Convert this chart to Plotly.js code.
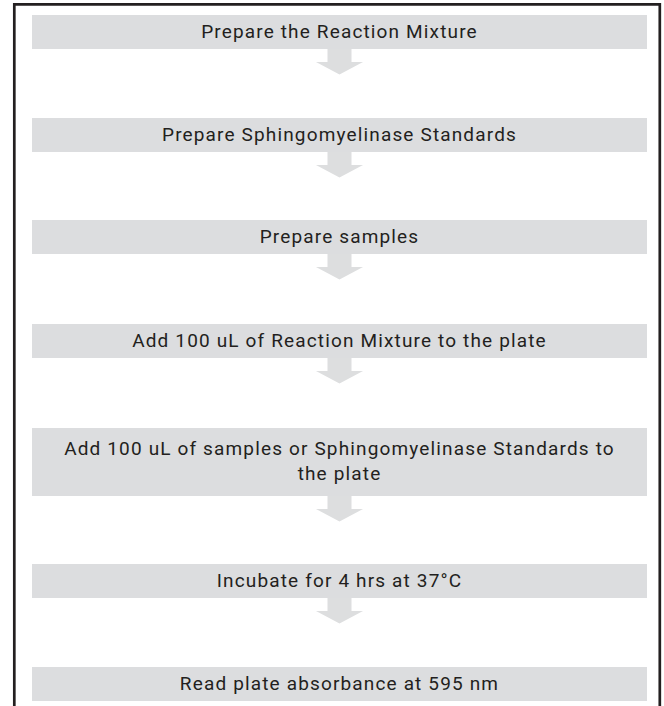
<!DOCTYPE html>
<html>
<head>
<meta charset="utf-8">
<script src="https://cdn.plot.ly/plotly-3.0.1.min.js"></script>
<style>
html,body{margin:0;padding:0;background:#fff;}
#chart{width:664px;height:706px;}
#chart .textpoint text{letter-spacing:1.15px;}
</style>
</head>
<body>
<div id="chart"></div>
<script>
// Flowchart steps (content)
const steps = [
  "Prepare the Reaction Mixture",
  "Prepare Sphingomyelinase Standards",
  "Prepare samples",
  "Add 100 uL of Reaction Mixture to the plate",
  "Add 100 uL of samples or Sphingomyelinase Standards to<br>the plate",
  "Incubate for 4 hrs at 37°C",
  "Read plate absorbance at 595 nm"
];

// Layout geometry (pixel-space axes)
const boxTop    = [15, 118, 220, 324, 428, 564, 667];
const boxBottom = [49, 152, 254, 358, 496, 598, 701];
const boxLeft = 32, boxRight = 647;
const cx = (boxLeft + boxRight) / 2;

const BOX = "#dcdddf", ARROW = "#dddedf", INK = "#231f20";

const shapes = [];
// outer frame (open at bottom)
shapes.push({type:"path", xref:"x", yref:"y",
  path:"M 14.3,710 L 14.3,4.3 L 659.8,4.3 L 659.8,710",
  line:{color:INK, width:2.7}, layer:"above"});
boxTop.forEach((t,i)=>{
  shapes.push({type:"rect", xref:"x", yref:"y", x0:boxLeft, x1:boxRight, y0:t, y1:boxBottom[i],
    fillcolor:BOX, line:{width:0}, layer:"below"});
  if (i < boxTop.length - 1) {
    const b = boxBottom[i];
    const p = `M ${cx-12},${b} L ${cx+12},${b} L ${cx+12},${b+13} L ${cx+23.5},${b+13} L ${cx},${b+25.5} L ${cx-23.5},${b+13} L ${cx-12},${b+13} Z`;
    shapes.push({type:"path", xref:"x", yref:"y", path:p, fillcolor:ARROW, line:{width:0}, layer:"below"});
  }
});

const labelY = boxTop.map((t,i)=> (t + boxBottom[i]) / 2 + 1);
const trace = {
  type:"scatter", mode:"text",
  x: steps.map(()=>cx), y: labelY, text: steps,
  textposition:"middle center",
  textfont:{family:"Roboto, 'Noto Sans', sans-serif", size:19, color:INK},
  hoverinfo:"skip", showlegend:false
};

const layout = {
  width:664, height:706,
  margin:{l:0,r:0,t:0,b:0},
  paper_bgcolor:"#ffffff", plot_bgcolor:"#ffffff",
  xaxis:{range:[0,664], visible:false, fixedrange:true},
  yaxis:{range:[706,0], visible:false, fixedrange:true},
  shapes: shapes,
  showlegend:false
};
Plotly.newPlot("chart", [trace], layout, {displayModeBar:false, staticPlot:true});
</script>
</body>
</html>
